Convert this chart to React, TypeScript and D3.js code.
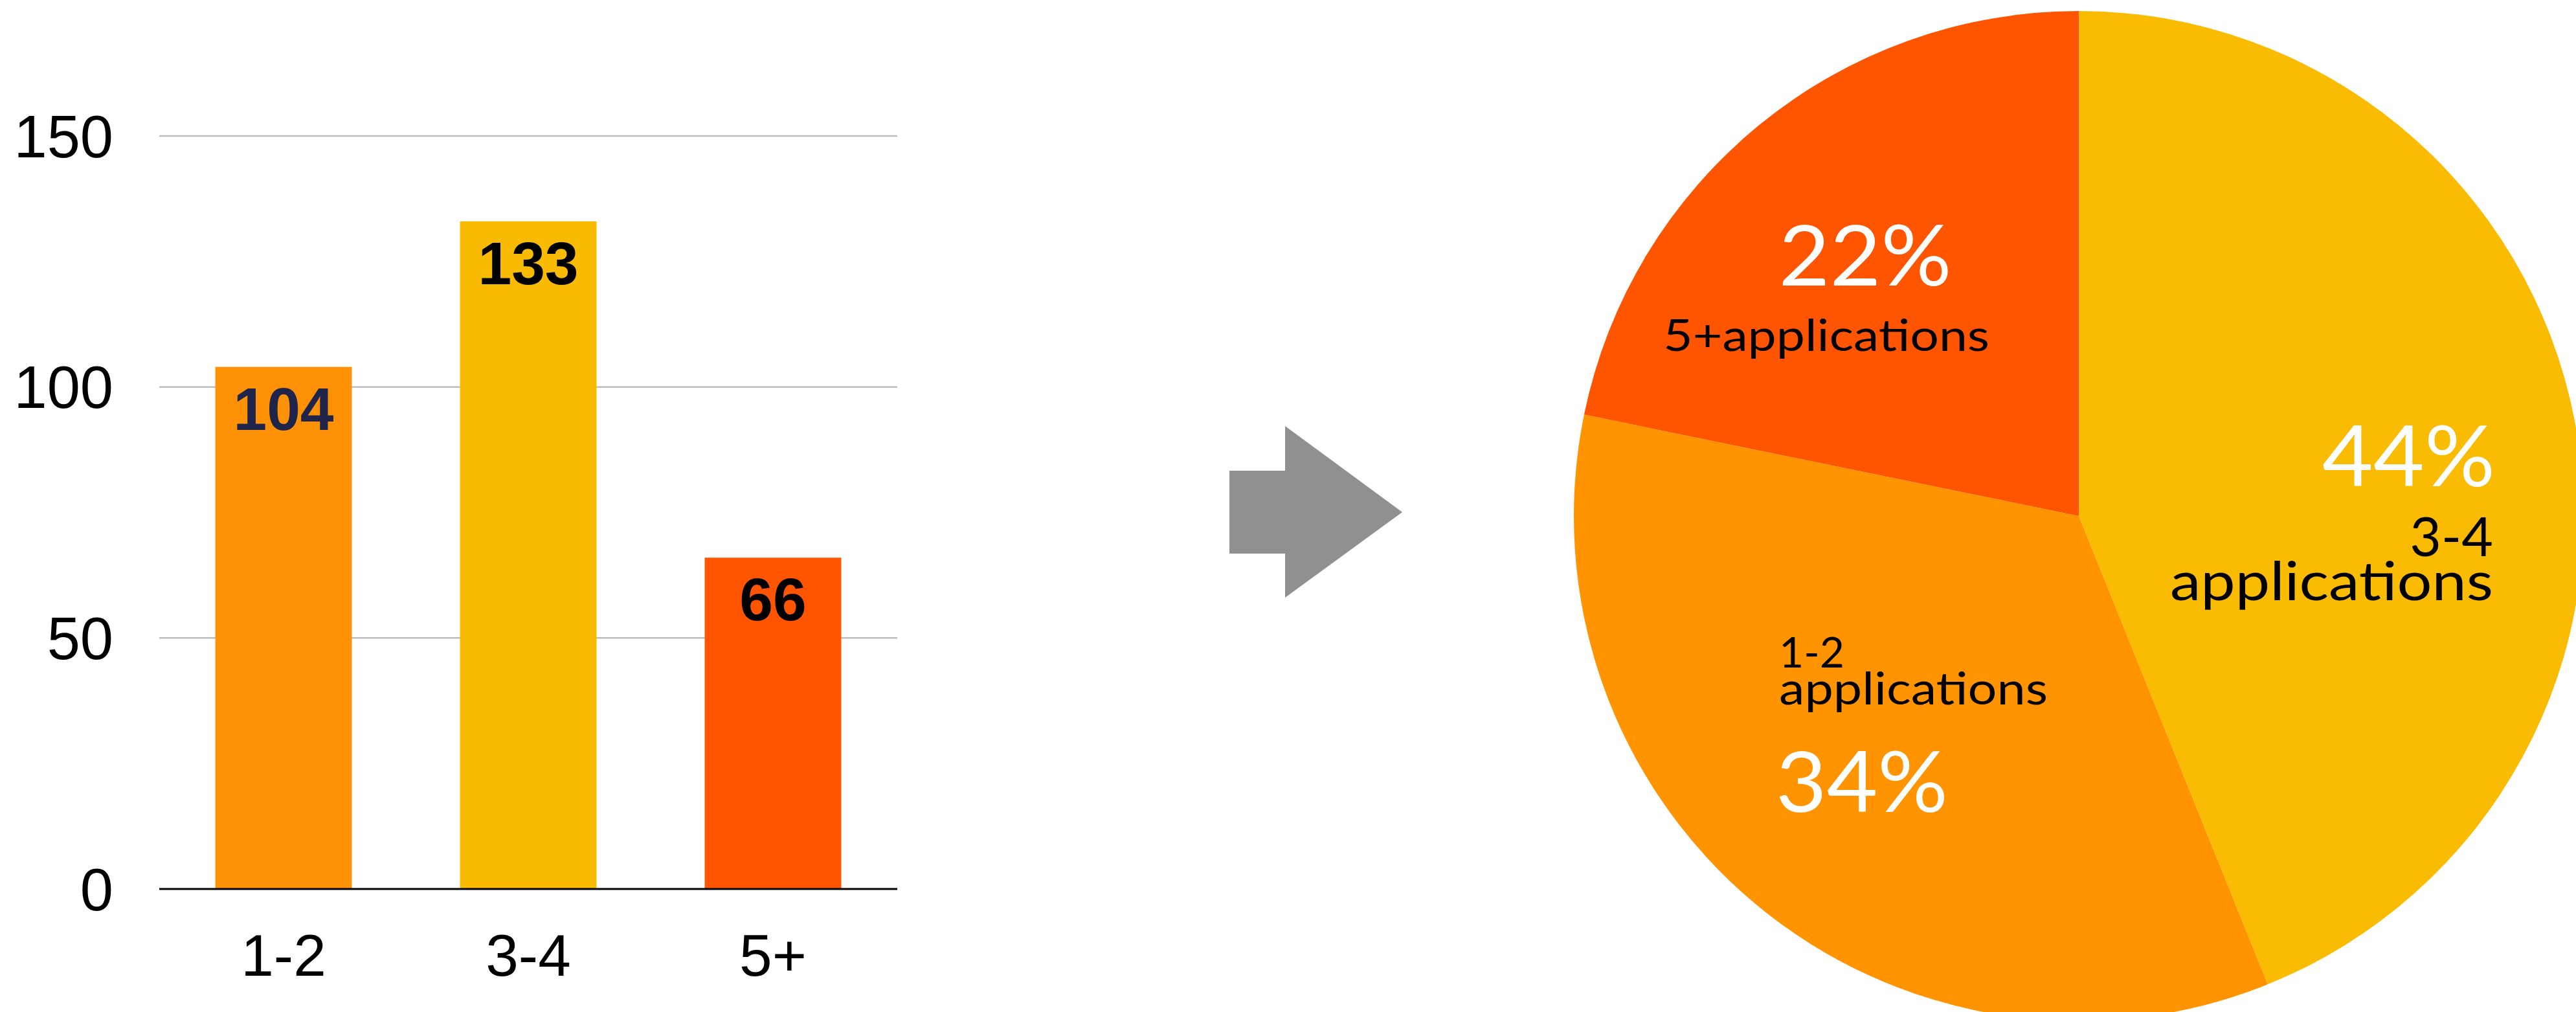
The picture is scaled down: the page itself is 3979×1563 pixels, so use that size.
import React from "react";
import * as d3 from "d3";

// ---- data ----
const categories = ["1-2", "3-4", "5+"];
const counts = [104, 133, 66];
const yTicks = [0, 50, 100, 150];
const barColors = ["#FF9106", "#F9BB02", "#FF5500"];
const valueLabelColors = ["#1F254A", "#000000", "#000000"];

const pieOrder = ["3-4", "1-2", "5+"];
const pieColors: Record<string, string> = { "1-2": "#FF9400", "3-4": "#F9BC02", "5+": "#FF5500" };

// ---- layout ----
const W = 3979;
const H = 1563;
const plot = { left: 246, right: 1386, top: 210, bottom: 1373 };
const pieC = { x: 3211, y: 797, r: 780 };

export default function App() {
  const x = d3
    .scaleBand<string>()
    .domain(categories)
    .range([plot.left, plot.right])
    .paddingInner(0.442)
    .paddingOuter(0.229);
  const y = d3.scaleLinear().domain([0, 150]).range([plot.bottom, plot.top]);

  const total = d3.sum(counts);
  const pieData = pieOrder.map((k) => ({ key: k, value: counts[categories.indexOf(k)] }));
  const arcs = d3
    .pie<{ key: string; value: number }>()
    .sort(null)
    .value((d) => d.value)(pieData);
  const arcGen = d3.arc<any>().innerRadius(0).outerRadius(pieC.r);
  const pct = (k: string) => Math.round((counts[categories.indexOf(k)] / total) * 100) + "%";

  const barFont = "'Liberation Sans', Arial, Helvetica, sans-serif";
  const pieFont = "Lato, 'Open Sans', sans-serif";

  // arrow shape
  const ax = 1899, ay = 791;
  const arrowPts: [number, number][] = [
    [ax, ay - 64],
    [ax + 86, ay - 64],
    [ax + 86, ay - 133],
    [ax + 267, ay],
    [ax + 86, ay + 132],
    [ax + 86, ay + 64],
    [ax, ay + 64],
  ];

  return (
    <svg
      width={W}
      height={H}
      style={{ position: "absolute", left: 0, top: 0, background: "#fff" }}
    >
      {/* gridlines */}
      {yTicks.filter((t) => t > 0).map((t) => (
        <line key={t} x1={plot.left} x2={plot.right} y1={y(t)} y2={y(t)} stroke="#BDBDBD" strokeWidth={2.5} />
      ))}
      {/* bars */}
      {categories.map((c, i) => (
        <rect key={c} x={x(c)} y={y(counts[i])} width={x.bandwidth()} height={y(0) - y(counts[i])} fill={barColors[i]} />
      ))}
      {/* baseline */}
      <line x1={plot.left} x2={plot.right} y1={y(0)} y2={y(0)} stroke="#000" strokeWidth={3} />
      {/* y tick labels */}
      {yTicks.map((t) => (
        <text key={t} x={175} y={y(t)} dy="0.355em" textAnchor="end" fontFamily={barFont} fontSize={92} fill="#000">
          {t}
        </text>
      ))}
      {/* category labels */}
      {categories.map((c) => (
        <text key={c} x={(x(c) as number) + x.bandwidth() / 2} y={1507} textAnchor="middle" fontFamily={barFont} fontSize={91} fill="#000">
          {c}
        </text>
      ))}
      {/* value labels */}
      {categories.map((c, i) => (
        <text
          key={c}
          x={(x(c) as number) + x.bandwidth() / 2}
          y={y(counts[i]) + 97}
          textAnchor="middle"
          fontFamily={barFont}
          fontWeight="bold"
          fontSize={93}
          fill={valueLabelColors[i]}
        >
          {counts[i]}
        </text>
      ))}

      {/* arrow */}
      <polygon points={arrowPts.map((p) => p.join(",")).join(" ")} fill="#909090" />

      {/* pie */}
      <g transform={`translate(${pieC.x},${pieC.y})`}>
        {arcs.map((a) => (
          <path key={a.data.key} d={arcGen(a) as string} fill={pieColors[a.data.key]} />
        ))}
        {/* 5+ */}
        <text x={-330} y={-356} textAnchor="middle" fontFamily={pieFont} fontWeight={400} fontSize={130} fill="#fff" textLength={267} lengthAdjust="spacingAndGlyphs">
          {pct("5+")}
        </text>
        <text x={-390} y={-255} textAnchor="middle" fontFamily={pieFont} fontSize={68} fill="#000" textLength={504} lengthAdjust="spacingAndGlyphs">
          5+applications
        </text>
        {/* 3-4 */}
        <text x={643} y={-46} textAnchor="end" fontFamily={pieFont} fontWeight={400} fontSize={130} fill="#fff" textLength={267} lengthAdjust="spacingAndGlyphs">
          {pct("3-4")}
        </text>
        <text x={640} y={62} textAnchor="end" fontFamily={pieFont} fontSize={84} fill="#000">
          3-4
        </text>
        <text x={640} y={130} textAnchor="end" fontFamily={pieFont} fontSize={84} fill="#000" textLength={499} lengthAdjust="spacingAndGlyphs">
          applications
        </text>
        {/* 1-2 */}
        <text x={-463} y={234} textAnchor="start" fontFamily={pieFont} fontSize={66} fill="#000">
          1-2
        </text>
        <text x={-463} y={291} textAnchor="start" fontFamily={pieFont} fontSize={70} fill="#000" textLength={415} lengthAdjust="spacingAndGlyphs">
          applications
        </text>
        <text x={-468} y={457} textAnchor="start" fontFamily={pieFont} fontWeight={400} fontSize={130} fill="#fff" textLength={266} lengthAdjust="spacingAndGlyphs">
          {pct("1-2")}
        </text>
      </g>
    </svg>
  );
}
